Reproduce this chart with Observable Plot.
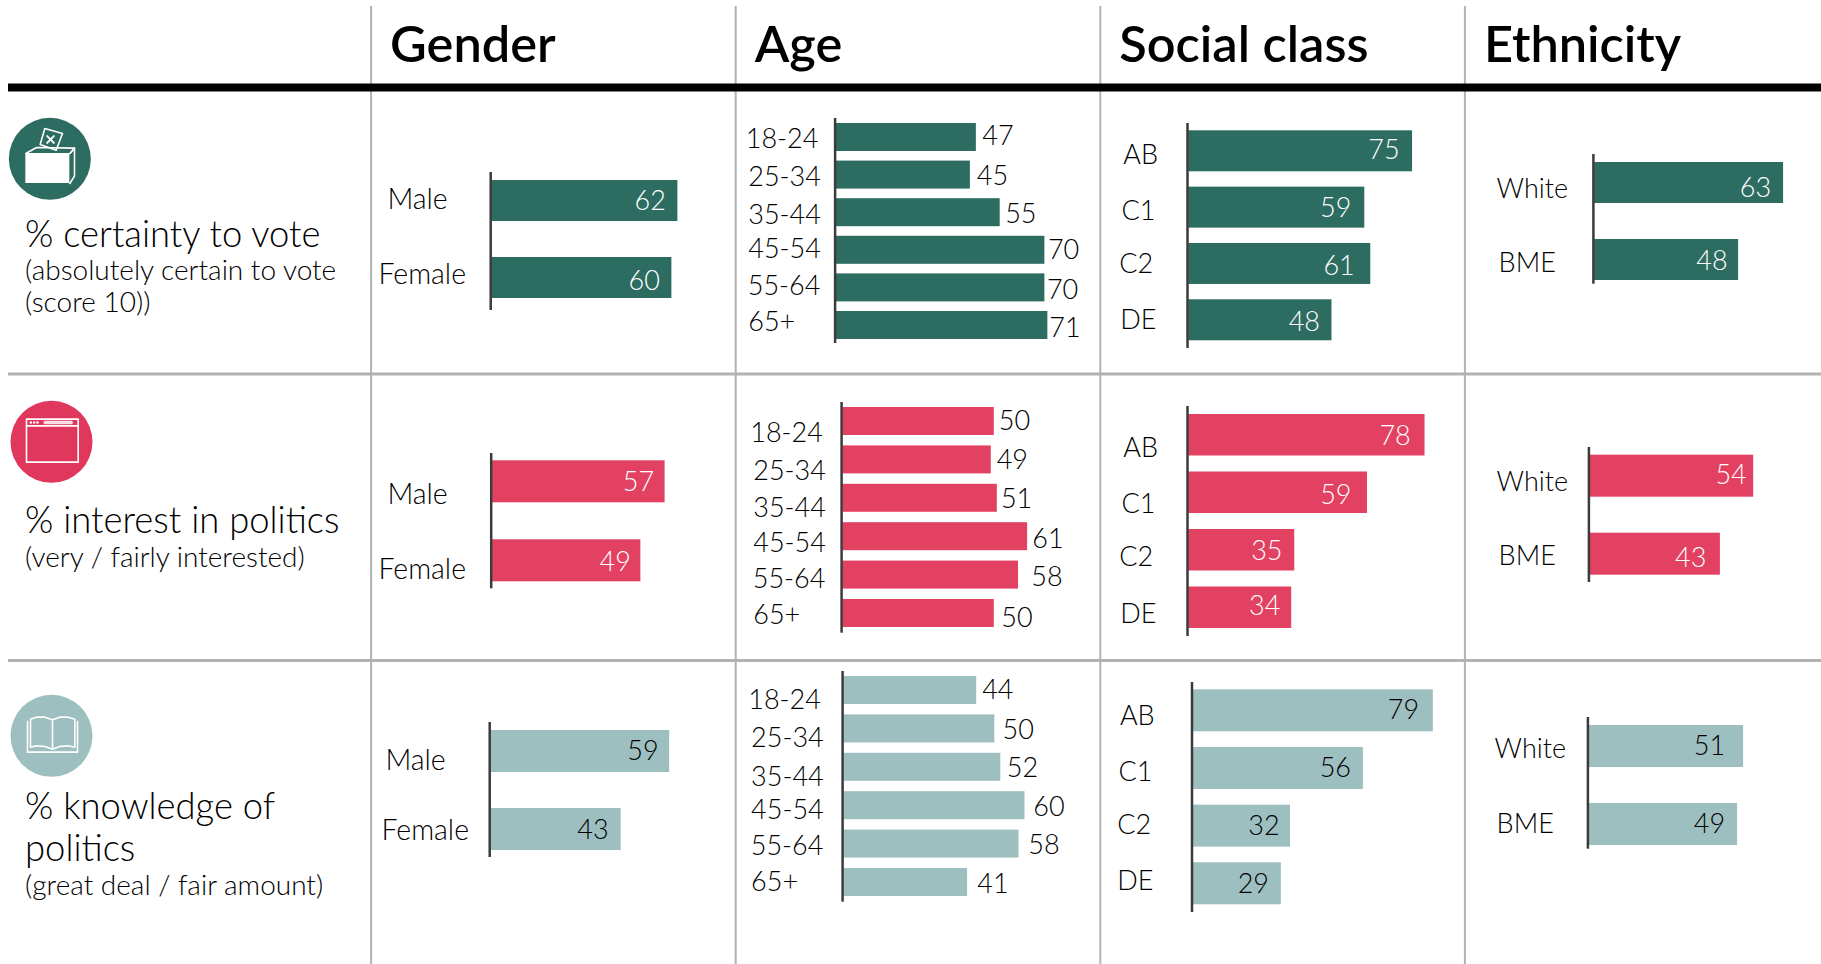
<!DOCTYPE html>
<html>
<head>
<meta charset="utf-8">
<script src="https://cdn.jsdelivr.net/npm/d3@7"></script>
<script src="https://cdn.jsdelivr.net/npm/@observablehq/plot@0.6"></script>
<style>
html,body{margin:0;padding:0;background:#fff;width:1821px;height:964px;overflow:hidden}
#page{position:relative;width:1821px;height:964px}
#page>svg,#page>div{position:absolute}
</style>
</head>
<body>
<div id="page"></div>
<script>
// ---------- data ----------
const headers = ["Gender", "Age", "Social class", "Ethnicity"];
const genders = ["Male", "Female"];
const ages = ["18-24", "25-34", "35-44", "45-54", "55-64", "65+"];
const classes = ["AB", "C1", "C2", "DE"];
const ethnicities = ["White", "BME"];

const voteGender = [62, 60];
const voteAge = [47, 45, 55, 70, 70, 71];
const voteClass = [75, 59, 61, 48];
const voteEthnicity = [63, 48];

const interestGender = [57, 49];
const interestAge = [50, 49, 51, 61, 58, 50];
const interestClass = [78, 59, 35, 34];
const interestEthnicity = [54, 43];

const knowledgeGender = [59, 43];
const knowledgeAge = [44, 50, 52, 60, 58, 41];
const knowledgeClass = [79, 56, 32, 29];
const knowledgeEthnicity = [51, 49];

const rowTitles = [["% certainty to vote"], ["% interest in politics"], ["% knowledge of", "politics"]];
const rowNotes = [["(absolutely certain to vote", "(score 10))"], ["(very / fairly interested)"], ["(great deal / fair amount)"]];

// ---------- styles & layout ----------
const FONT = "Lato, 'Noto Sans', sans-serif";
const GREEN = "#2d6c61", PINK = "#e24162", TEAL = "#9ebfbf", INK = "#000", GRID = "#b4b1b2", AXIS = "#3b3b3b";
const VALUE_SIZE = 27;
const COL_LEFT = 370.6, COL_W = 364.6;
const LABEL_NUDGE_X = -1.5, LABEL_NUDGE_Y = 1, VALUE_NUDGE_Y = 1;

// titles' vertical offsets from each row's rule
const titleDy = [[148], [147], [147, 189]];
const noteDy = [[184, 216], [184.5], [226]];

const panels = [
 // row 1
 {col:0, cats:genders, vals:voteGender, fill:GREEN, k:3, x0:491, top:172, bottom:310, barTop:180, barBottom:298, band:41, ls:28.5,
  ldx:[-103,-112], ldy:[-2.5,-4.5], vdx:[-12,-12], vdy:[-.5,2.5], inside:true, ink:"#fff"},
 {col:1, cats:ages, vals:voteAge, fill:GREEN, k:2.98, x0:836, top:118, bottom:343, barTop:123, barBottom:339, band:28, ls:27,
  ldx:[-89,-86.5,-86.5,-86.5,-87,-86.5], ldy:[1,1.4,1.8,-1.8,-2.4,-4], vdx:[6,6.4,5,3,2,1.5], vdy:[-2,.4,.8,-.8,1.6,2], inside:false, ink:INK},
 {col:2, cats:classes, vals:voteClass, fill:GREEN, k:2.985, x0:1188, top:122.7, bottom:347.7, barTop:130, barBottom:340, band:41, ls:27,
  ldx:[-64,-65.6,-68,-67], ldy:[3.5,3.2,-.5,-.8], vdx:[-13,-13.4,-16,-12], vdy:[-1.5,0,1.8,1.2], inside:true, ink:"#fff"},
 {col:3, cats:ethnicities, vals:voteEthnicity, fill:GREEN, k:3, x0:1594.5, top:154, bottom:283.7, barTop:162, barBottom:280, band:41, ls:27,
  ldx:[-96.5,-94.5], ldy:[5.2,2.2], vdx:[-12.5,-11], vdy:[4.2,.5], inside:true, ink:"#fff"},
 // row 2
 {col:0, cats:genders, vals:interestGender, fill:PINK, k:3.03, x0:491.5, top:452.7, bottom:588, barTop:460, barBottom:581, band:42, ls:28.5,
  ldx:[-103.5,-112.5], ldy:[12,8], vdx:[-11,-10], vdy:[-.3,.7], inside:true, ink:"#fff"},
 {col:1, cats:ages, vals:interestAge, fill:PINK, k:3.03, x0:842.5, top:402, bottom:632.7, barTop:407, barBottom:627, band:28, ls:27,
  ldx:[-91,-88,-88,-88,-88.5,-88], ldy:[10.7,10.6,9.2,5.8,3.1,1], vdx:[4.5,5.4,3.6,4.7,12.8,7], vdy:[-1,-.4,.2,1.5,1.4,3.7], inside:false, ink:INK},
 {col:2, cats:classes, vals:interestClass, fill:PINK, k:3.03, x0:1188, top:406, bottom:636, barTop:414, barBottom:628, band:41.5, ls:27,
  ldx:[-64,-65.6,-68,-67], ldy:[12.5,11,6.2,5.4], vdx:[-14.3,-16,-12.3,-11.3], vdy:[.25,1.75,.25,-2.25], inside:true, ink:"#fff"},
 {col:3, cats:ethnicities, vals:interestEthnicity, fill:PINK, k:3.03, x0:1590, top:447.3, bottom:582.3, barTop:455, barBottom:575, band:42, ls:27,
  ldx:[-92,-90], ldy:[5,1], vdx:[-7,-14], vdy:[-2,2.7], inside:true, ink:"#fff"},
 // row 3
 {col:0, cats:genders, vals:knowledgeGender, fill:TEAL, k:3.03, x0:490, top:722, bottom:857, barTop:730, barBottom:850, band:42, ls:28.5,
  ldx:[-104,-108], ldy:[8,0], vdx:[-11,-12.5], vdy:[-1,0], inside:true, ink:INK},
 {col:1, cats:ages, vals:knowledgeAge, fill:TEAL, k:3.02, x0:843.5, top:671, bottom:901.7, barTop:676, barBottom:896, band:28, ls:27,
  ldx:[-94,-91.2,-91.2,-91.2,-91.5,-91.2], ldy:[9,8.3,8.9,4.1,1.4,-1], vdx:[5.5,7.7,6,8.3,9.3,9.7], vdy:[-1,.6,.2,.8,.4,.7], inside:false, ink:INK},
 {col:2, cats:classes, vals:knowledgeClass, fill:TEAL, k:3.04, x0:1192.5, top:681.7, bottom:911.7, barTop:689, barBottom:904, band:42, ls:27,
  ldx:[-71.8,-73.2,-74.5,-74.5], ldy:[5,3.3,-1.3,-3], vdx:[-14.3,-12.4,-10.8,-12.4], vdy:[-1,-.7,-.3,-.3], inside:true, ink:INK},
 {col:3, cats:ethnicities, vals:knowledgeEthnicity, fill:TEAL, k:3.03, x0:1589, top:717, bottom:848.7, barTop:725, barBottom:845, band:42, ls:27,
  ldx:[-93,-91], ldy:[2,-1.3], vdx:[-18.5,-12.5], vdy:[-1,-1.3], inside:true, ink:INK}
];

const page = document.getElementById("page");
function place(node, left, top) {
  node.style.left = left + "px";
  node.style.top = top + "px";
  page.appendChild(node);
}

// ---------- table frame (rules, headers, row text) ----------
const frameMarks = [
  Plot.ruleX([1, 2, 3, 4], {stroke: GRID, strokeWidth: 2}),
  Plot.ruleY([1, 2], {stroke: GRID, strokeWidth: 3}),
  Plot.ruleY([0], {stroke: "#000", strokeWidth: 8}),
  Plot.text(headers, {x: (d, i) => i + 1, y: () => 0, text: d => d, dx: 19, dy: -41.5,
    textAnchor: "start", fontSize: 50.5, fontWeight: 600, fill: "#000"})
];
rowTitles.forEach((lines, r) => lines.forEach((line, i) => {
  frameMarks.push(Plot.text([line], {x: () => 0, y: () => r, text: d => d, dx: 18.5, dy: titleDy[r][i],
    textAnchor: "start", fontSize: 36.4, fontWeight: 300, fill: INK}));
}));
rowNotes.forEach((lines, r) => lines.forEach((line, i) => {
  frameMarks.push(Plot.text([line], {x: () => 0, y: () => r, text: d => d, dx: 18.5, dy: noteDy[r][i],
    textAnchor: "start", fontSize: 28, fontWeight: 300, fill: INK}));
}));
place(Plot.plot({
  width: 1821, height: 964, marginLeft: 8, marginRight: 0, marginTop: 6, marginBottom: 0,
  x: {type: "linear", domain: [0, 5], range: [COL_LEFT - COL_W, COL_LEFT + 4 * COL_W], axis: null},
  y: {type: "linear", domain: [0, 2], range: [87, 660], axis: null},
  style: {background: "transparent", fontFamily: FONT, overflow: "visible"},
  marks: frameMarks
}), 0, 0);

// ---------- bar panels ----------
for (const p of panels) {
  const cellLeft = COL_LEFT + p.col * COL_W;
  const ml = p.x0 - cellLeft;
  const rows = p.cats.map((cat, i) => ({cat, value: p.vals[i], i}));
  const n = rows.length;
  const step = (p.barBottom - p.barTop - p.band) / (n - 1);
  const marks = [
    Plot.barX(rows, {x: "value", y: "cat", fill: p.fill}),
    Plot.ruleX([0], {stroke: AXIS, strokeWidth: 2.5, dx: -1.2})
  ];
  rows.forEach((d, i) => {
    marks.push(Plot.text([d], {x: () => 0, y: "cat", text: "cat", dx: p.ldx[i] + LABEL_NUDGE_X, dy: p.ldy[i] + LABEL_NUDGE_Y,
      textAnchor: "start", fontSize: p.ls, fontWeight: 300, fill: INK}));
    marks.push(Plot.text([d], {x: "value", y: "cat", text: q => String(q.value), dx: p.vdx[i], dy: p.vdy[i] + VALUE_NUDGE_Y,
      textAnchor: p.inside ? "end" : "start", fontSize: VALUE_SIZE, fontWeight: 300, fill: p.ink}));
  });
  place(Plot.plot({
    width: COL_W, height: p.bottom - p.top, marginLeft: ml, marginRight: 0, marginTop: 0, marginBottom: 0,
    x: {domain: [0, 100], range: [ml, ml + 100 * p.k], axis: null},
    y: {type: "band", domain: p.cats, range: [p.barTop - p.top, p.barBottom - p.top],
        paddingInner: 1 - p.band / step, paddingOuter: 0, round: false, axis: null},
    style: {background: "transparent", fontFamily: FONT, overflow: "visible"},
    marks
  }), cellLeft, p.top);
}

// ---------- row icons (drawn in a 300-unit box) ----------
function icon(top, fill, cx, cy, build) {
  const stroke = {stroke: "#fff", strokeWidth: 1.6, fill: "none"};
  place(Plot.plot({
    width: 100, height: 100, margin: 0,
    x: {domain: [0, 300], range: [0, 100], axis: null},
    y: {domain: [0, 300], range: [0, 100], axis: null},
    style: {background: "transparent", overflow: "visible"},
    marks: [Plot.dot([[cx, cy]], {x: d => d[0], y: d => d[1], r: 41, fill, stroke: "none"}), ...build(stroke)]
  }), 0, top);
}
const poly = (pts, o) => Plot.line(pts, {x: d => d[0], y: d => d[1], ...o});

icon(109, GREEN, 148, 148, s => [
  Plot.rect([[76, 132, 208, 222]], {x1: d => d[0], y1: d => d[1], x2: d => d[2], y2: d => d[3], fill: "#fff"}),
  poly([[76,132],[108,114],[222,116],[208,132]], s),
  poly([[208,132],[222,116],[222,200],[208,222]], s),
  poly([[133,57],[186,72],[167,122],[119,105],[133,57]], s),
  poly([[140,80],[160,100]], {...s, strokeWidth: 2}),
  poly([[160,80],[140,100]], {...s, strokeWidth: 2})
]);
icon(392, "#e0375d", 153, 148, s => [
  poly([[78,80],[233,80],[233,209],[78,209],[78,80]], s),
  poly([[78,100],[233,100]], s),
  poly([[134,90],[212,90]], {stroke: "#fff", strokeWidth: 3.5, strokeOpacity: 0.85, strokeLinecap: "round"}),
  Plot.dot([[91,90],[101,90],[111,90]], {x: d => d[0], y: d => d[1], r: 1.2, fill: "#fff"})
]);
icon(686, TEAL, 153, 148, s => [
  poly([[90,98],[108,92],[133,92],[156,100],[178,92],[203,92],[223,98],[223,182],[203,178],[178,180],[156,188],[133,180],[108,178],[90,182],[90,98]], s),
  poly([[156,100],[156,188]], s),
  poly([[81,105],[81,197],[231,197],[231,105]], s)
]);
</script>
</body>
</html>
